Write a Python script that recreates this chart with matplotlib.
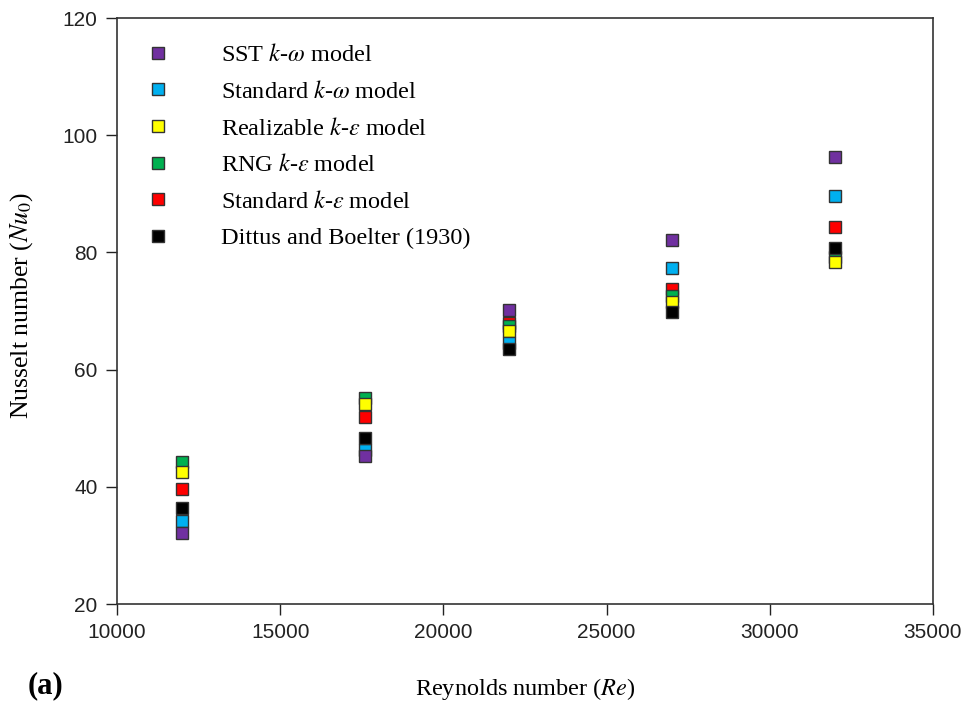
import matplotlib
matplotlib.use("Agg")
import matplotlib.pyplot as plt

plt.rcParams['mathtext.fontset'] = 'stix'

reynolds = [12000, 17600, 22000, 27000, 32000]

sst_kw = [32.2, 45.2, 70.2, 82.1, 96.2]
std_kw = [34.1, 46.3, 64.6, 77.3, 89.7]
real_ke = [42.6, 54.1, 66.6, 71.6, 78.4]
rng_ke = [44.3, 55.2, 67.4, 72.6, 79.3]
std_ke = [39.7, 51.9, 67.9, 73.7, 84.4]
dittus = [36.3, 48.4, 63.5, 69.9, 80.7]

labels = [r"SST $k$-$\omega$ model",
          r"Standard $k$-$\omega$ model",
          r"Realizable $k$-$\varepsilon$ model",
          r"RNG $k$-$\varepsilon$ model",
          r"Standard $k$-$\varepsilon$ model",
          "Dittus and Boelter (1930)"]
series = [sst_kw, std_kw, real_ke, rng_ke, std_ke, dittus]
colors = ["#7030A0", "#00B0F0", "#FFFF00", "#00B050", "#FF0000", "#000000"]
zorders = [8, 6, 5, 4, 3, 7]

fig = plt.figure(figsize=(9.67, 7.05), dpi=100)
ax = fig.add_axes([117/967, 1-604/705, (933-117)/967, (604-18)/705])

handles = []
for vals, col, lab, z in zip(series, colors, labels, zorders):
    h, = ax.plot(reynolds, vals, linestyle='none', marker='s', markersize=8,
                 markerfacecolor=col, markeredgecolor='#333333',
                 markeredgewidth=1.0, label=lab, zorder=z)
    handles.append(h)

ax.set_xlim(10000, 35000)
ax.set_ylim(20, 120)
ax.set_xticks([10000, 15000, 20000, 25000, 30000, 35000])
ax.set_yticks([20, 40, 60, 80, 100, 120])
ax.tick_params(axis='both', direction='out', length=8, width=1.0,
               labelsize=15, pad=6, colors='#222222')
for lab in ax.get_xticklabels() + ax.get_yticklabels():
    lab.set_fontfamily('Liberation Sans')
for s in ax.spines.values():
    s.set_linewidth(1.2)
    s.set_color('#333333')

ax.set_xlabel(r"Reynolds number ($\mathit{Re}$)", fontfamily='Liberation Serif',
              fontsize=17.5, labelpad=24)
ax.set_ylabel(r"Nusselt number ($\mathit{Nu_0}$)", fontfamily='Liberation Serif',
              fontsize=18.5)
ax.yaxis.set_label_coords(-0.100, 0.51)

leg = ax.legend(handles=handles, loc='upper left', frameon=False,
                prop={'family': 'Liberation Serif', 'size': 17.5},
                handlelength=1.0, handletextpad=2.1, borderpad=0.0,
                borderaxespad=0.0, labelspacing=0.6,
                bbox_to_anchor=(0.035, 0.955))

fig.text(28/967, 1-686/705, "(a)", fontfamily='Liberation Serif',
         fontweight='bold', fontsize=22, va='center', ha='left')

fig.savefig("out.png", dpi=100, facecolor='white')
